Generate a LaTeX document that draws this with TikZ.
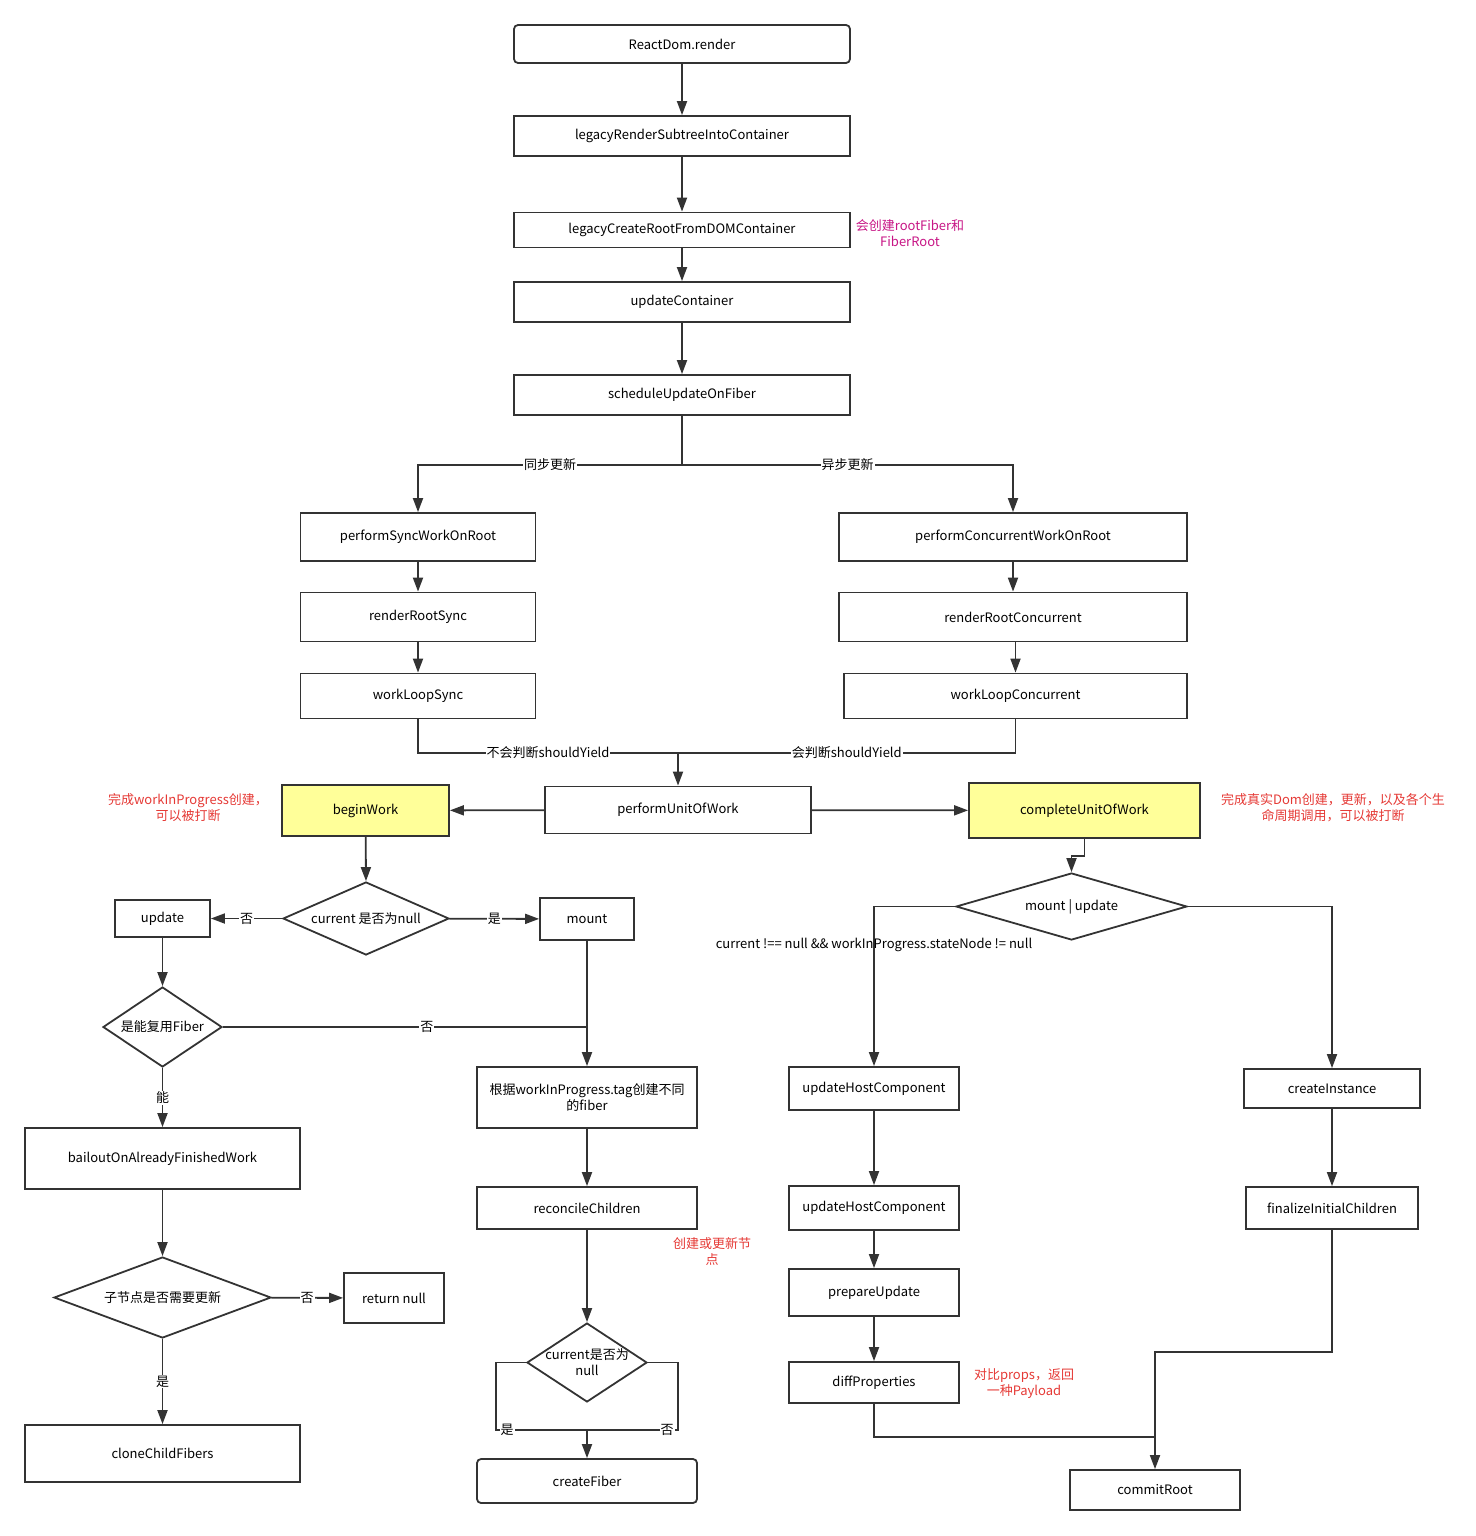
\documentclass[tikz,border=0pt]{standalone}
\usepackage{fontspec}
\setmainfont{Noto Sans CJK SC}
\usepackage{tikz}
\usetikzlibrary{arrows.meta,shapes.geometric,calc}
\definecolor{ln}{HTML}{333333}
\definecolor{hl}{HTML}{FFFF99}
\definecolor{notered}{HTML}{E53935}
\definecolor{notemag}{HTML}{C71585}
\newcommand\dfont{\fontsize{13}{16}\selectfont}
\tikzset{
  bx/.style 2 args = {draw=ln, line width=1.8pt, inner sep=2pt, align=center,
                      minimum width=#1, minimum height=#2},
  bxhl/.style 2 args = {bx={#1}{#2}, fill=hl},
  dec/.style 2 args = {diamond, draw=ln, line width=1.8pt, inner sep=0pt, align=center,
                       minimum width=#1, minimum height=#2, aspect=2},
  note/.style    = {align=center, text=notered},
  lbl/.style     = {fill=white, inner sep=1pt},
  edg/.style     = {draw=ln, line width=1.8pt},
  arr/.style     = {edg, -{Triangle[length=14pt,width=10pt]}},
}

\begin{document}
\begin{tikzpicture}[x=1pt,y=-1pt,font=\dfont]
  \useasboundingbox (0,0) rectangle (1475,1536);
  % top chain
  \node[bx={336pt}{38pt}, rounded corners=4pt] (rdr) at (682,44) {ReactDom.render};
  \node[bx={336pt}{40pt}] (lrs) at (682,136) {legacyRenderSubtreeIntoContainer};
  \node[bx={336pt}{35pt}] (lcr) at (682,230) {legacyCreateRootFromDOMContainer};
  \node[bx={336pt}{40pt}] (upc) at (682,302) {updateContainer};
  \node[bx={336pt}{40pt}] (sch) at (682,395) {scheduleUpdateOnFiber};
  \node[align=center, text=notemag] (nroot) at (910,233) {会创建rootFiber和\\FiberRoot};
  \draw[arr] (rdr) -- (lrs);
  \draw[arr] (lrs) -- (lcr);
  \draw[arr] (lcr) -- (upc);
  \draw[arr] (upc) -- (sch);

  % sync / concurrent
  \node[bx={235pt}{48pt}] (psync) at (418,537) {performSyncWorkOnRoot};
  \node[bx={235pt}{49pt}] (rsync) at (418,617) {renderRootSync};
  \node[bx={235pt}{45pt}] (wsync) at (418,696) {workLoopSync};
  \node[bx={348pt}{48pt}] (pconc) at (1013,537) {performConcurrentWorkOnRoot};
  \node[bx={348pt}{49pt}] (rconc) at (1013,617) {renderRootConcurrent};
  \node[bx={343pt}{45pt}] (wconc) at (1015.5,696) {workLoopConcurrent};
  \coordinate (split) at (682,465);
  \coordinate (merge) at (678,753);
  \draw[edg] (sch) -- (split);
  \draw[arr] (split) -| node[lbl, pos=0.25] {同步更新} (psync);
  \draw[arr] (split) -| node[lbl, pos=0.25] {异步更新} (pconc);
  \draw[arr] (psync) -- (rsync);
  \draw[arr] (rsync) -- (wsync);
  \draw[arr] (pconc) -- (rconc);
  \draw[arr] (rconc.south -| wconc) -- (wconc);
  \draw[edg] (wsync) |- node[lbl, pos=0.75] {不会判断shouldYield} (merge);
  \draw[edg] (wconc) |- node[lbl, pos=0.75] {会判断shouldYield} (merge);

  % unit of work
  \node[bx={266pt}{47pt}] (unit) at (678,810) {performUnitOfWork};
  \node[bxhl={167pt}{51pt}] (begin) at (365.5,810.5) {beginWork};
  \node[bxhl={231pt}{55pt}] (complete) at (1084.5,810.5) {completeUnitOfWork};
  \node[note] (nbegin) at (188,808) {完成workInProgress创建，\\可以被打断};
  \node[note] (ncomplete) at (1333,808) {完成真实Dom创建，更新，以及各个生\\命周期调用，可以被打断};
  \draw[arr] (merge) -- (unit);
  \draw[arr] (unit) -- (begin);
  \draw[arr] (unit) -- (complete);

  % beginWork branch
  \node[dec={166pt}{73pt}] (cn) at (366,918.5) {current 是否为null};
  \node[bx={95pt}{37pt}] (upd) at (162.5,918.5) {update};
  \node[bx={94pt}{42pt}] (mnt) at (587,919) {mount};
  \node[dec={119pt}{80pt}] (reuse) at (162.5,1027) {是能复用Fiber};
  \node[bx={220pt}{61pt}] (tag) at (587,1097.5) {根据workInProgress.tag创建不同\\的fiber};
  \node[bx={275pt}{61pt}] (bail) at (162.5,1158.5) {bailoutOnAlreadyFinishedWork};
  \node[dec={217pt}{81pt}] (child) at (162.5,1297.5) {子节点是否需要更新};
  \node[bx={100pt}{50pt}] (ret) at (394,1298) {return null};
  \node[bx={275pt}{57pt}] (clone) at (162.5,1453.5) {cloneChildFibers};
  \node[bx={220pt}{42pt}] (recon) at (587,1208) {reconcileChildren};
  \node[dec={120pt}{79pt}, inner sep=-7pt] (cur) at (587,1362.5) {current是否为\\null};
  \node[bx={220pt}{44pt}, rounded corners=4pt] (fiber) at (587,1481) {createFiber};
  \node[note] (nrecon) at (712,1252) {创建或更新节\\点};
  \coordinate (fj) at (587,1430);
  \draw[arr] (begin) -- (cn.north);
  \draw[arr] (cn) -- node[lbl] {否} (upd);
  \draw[arr] (cn) -- node[lbl] {是} (mnt);
  \draw[arr] (upd) -- (reuse.north);
  \draw[edg] (reuse.east) -- node[lbl, pos=0.56] {否} (reuse.east -| mnt);
  \draw[arr] (mnt) -- (tag);
  \draw[arr] (reuse) -- node[lbl] {能} (bail);
  \draw[arr] (bail) -- (child.north);
  \draw[arr] (child) -- node[lbl] {否} (ret);
  \draw[arr] (child) -- node[lbl] {是} (clone);
  \draw[arr] (tag) -- (recon);
  \draw[arr] (recon) -- (cur.north);
  \draw[edg] (cur.west) -- ++(-30,0) |- node[lbl, pos=0.56] {是} (fj);
  \draw[edg] (cur.east) -- ++(30,0) |- node[lbl, pos=0.56] {否} (fj);
  \draw[arr] (fj) -- (fiber);

  % completeUnitOfWork branch
  \node[dec={231pt}{67pt}] (mu) at (1071.5,906.5) {mount | update};
  \node[bx={170pt}{43pt}] (uhc1) at (874,1088.5) {updateHostComponent};
  \node[bx={170pt}{44pt}] (uhc2) at (874,1208) {updateHostComponent};
  \node[bx={170pt}{47pt}] (prep) at (874,1292.5) {prepareUpdate};
  \node[bx={170pt}{41pt}] (diff) at (874,1382.5) {diffProperties};
  \node[bx={176pt}{39pt}] (ci) at (1332,1088.5) {createInstance};
  \node[bx={172pt}{42pt}] (fic) at (1332,1208) {finalizeInitialChildren};
  \node[bx={170pt}{40pt}] (commit) at (1155,1490) {commitRoot};
  \node[note] (ndiff) at (1024,1384) {对比props，返回\\一种Payload};
  \coordinate (jn) at (1155,1437);
  \draw[arr] (complete.south) -- ++(0,17) -| (mu.north);
  \draw[arr] (mu.west) -| node[pos=0.62] {current !== null \&\& workInProgress.stateNode != null} (uhc1.north);
  \draw[arr] (mu.east) -| (ci.north);
  \draw[arr] (uhc1) -- (uhc2);
  \draw[arr] (uhc2) -- (prep);
  \draw[arr] (prep) -- (diff);
  \draw[arr] (ci) -- (fic);
  \draw[arr] (fic.south) -- ++(0,122) -| (commit.north);
  \draw[edg] (diff.south) |- (jn);
\end{tikzpicture}
\end{document}
